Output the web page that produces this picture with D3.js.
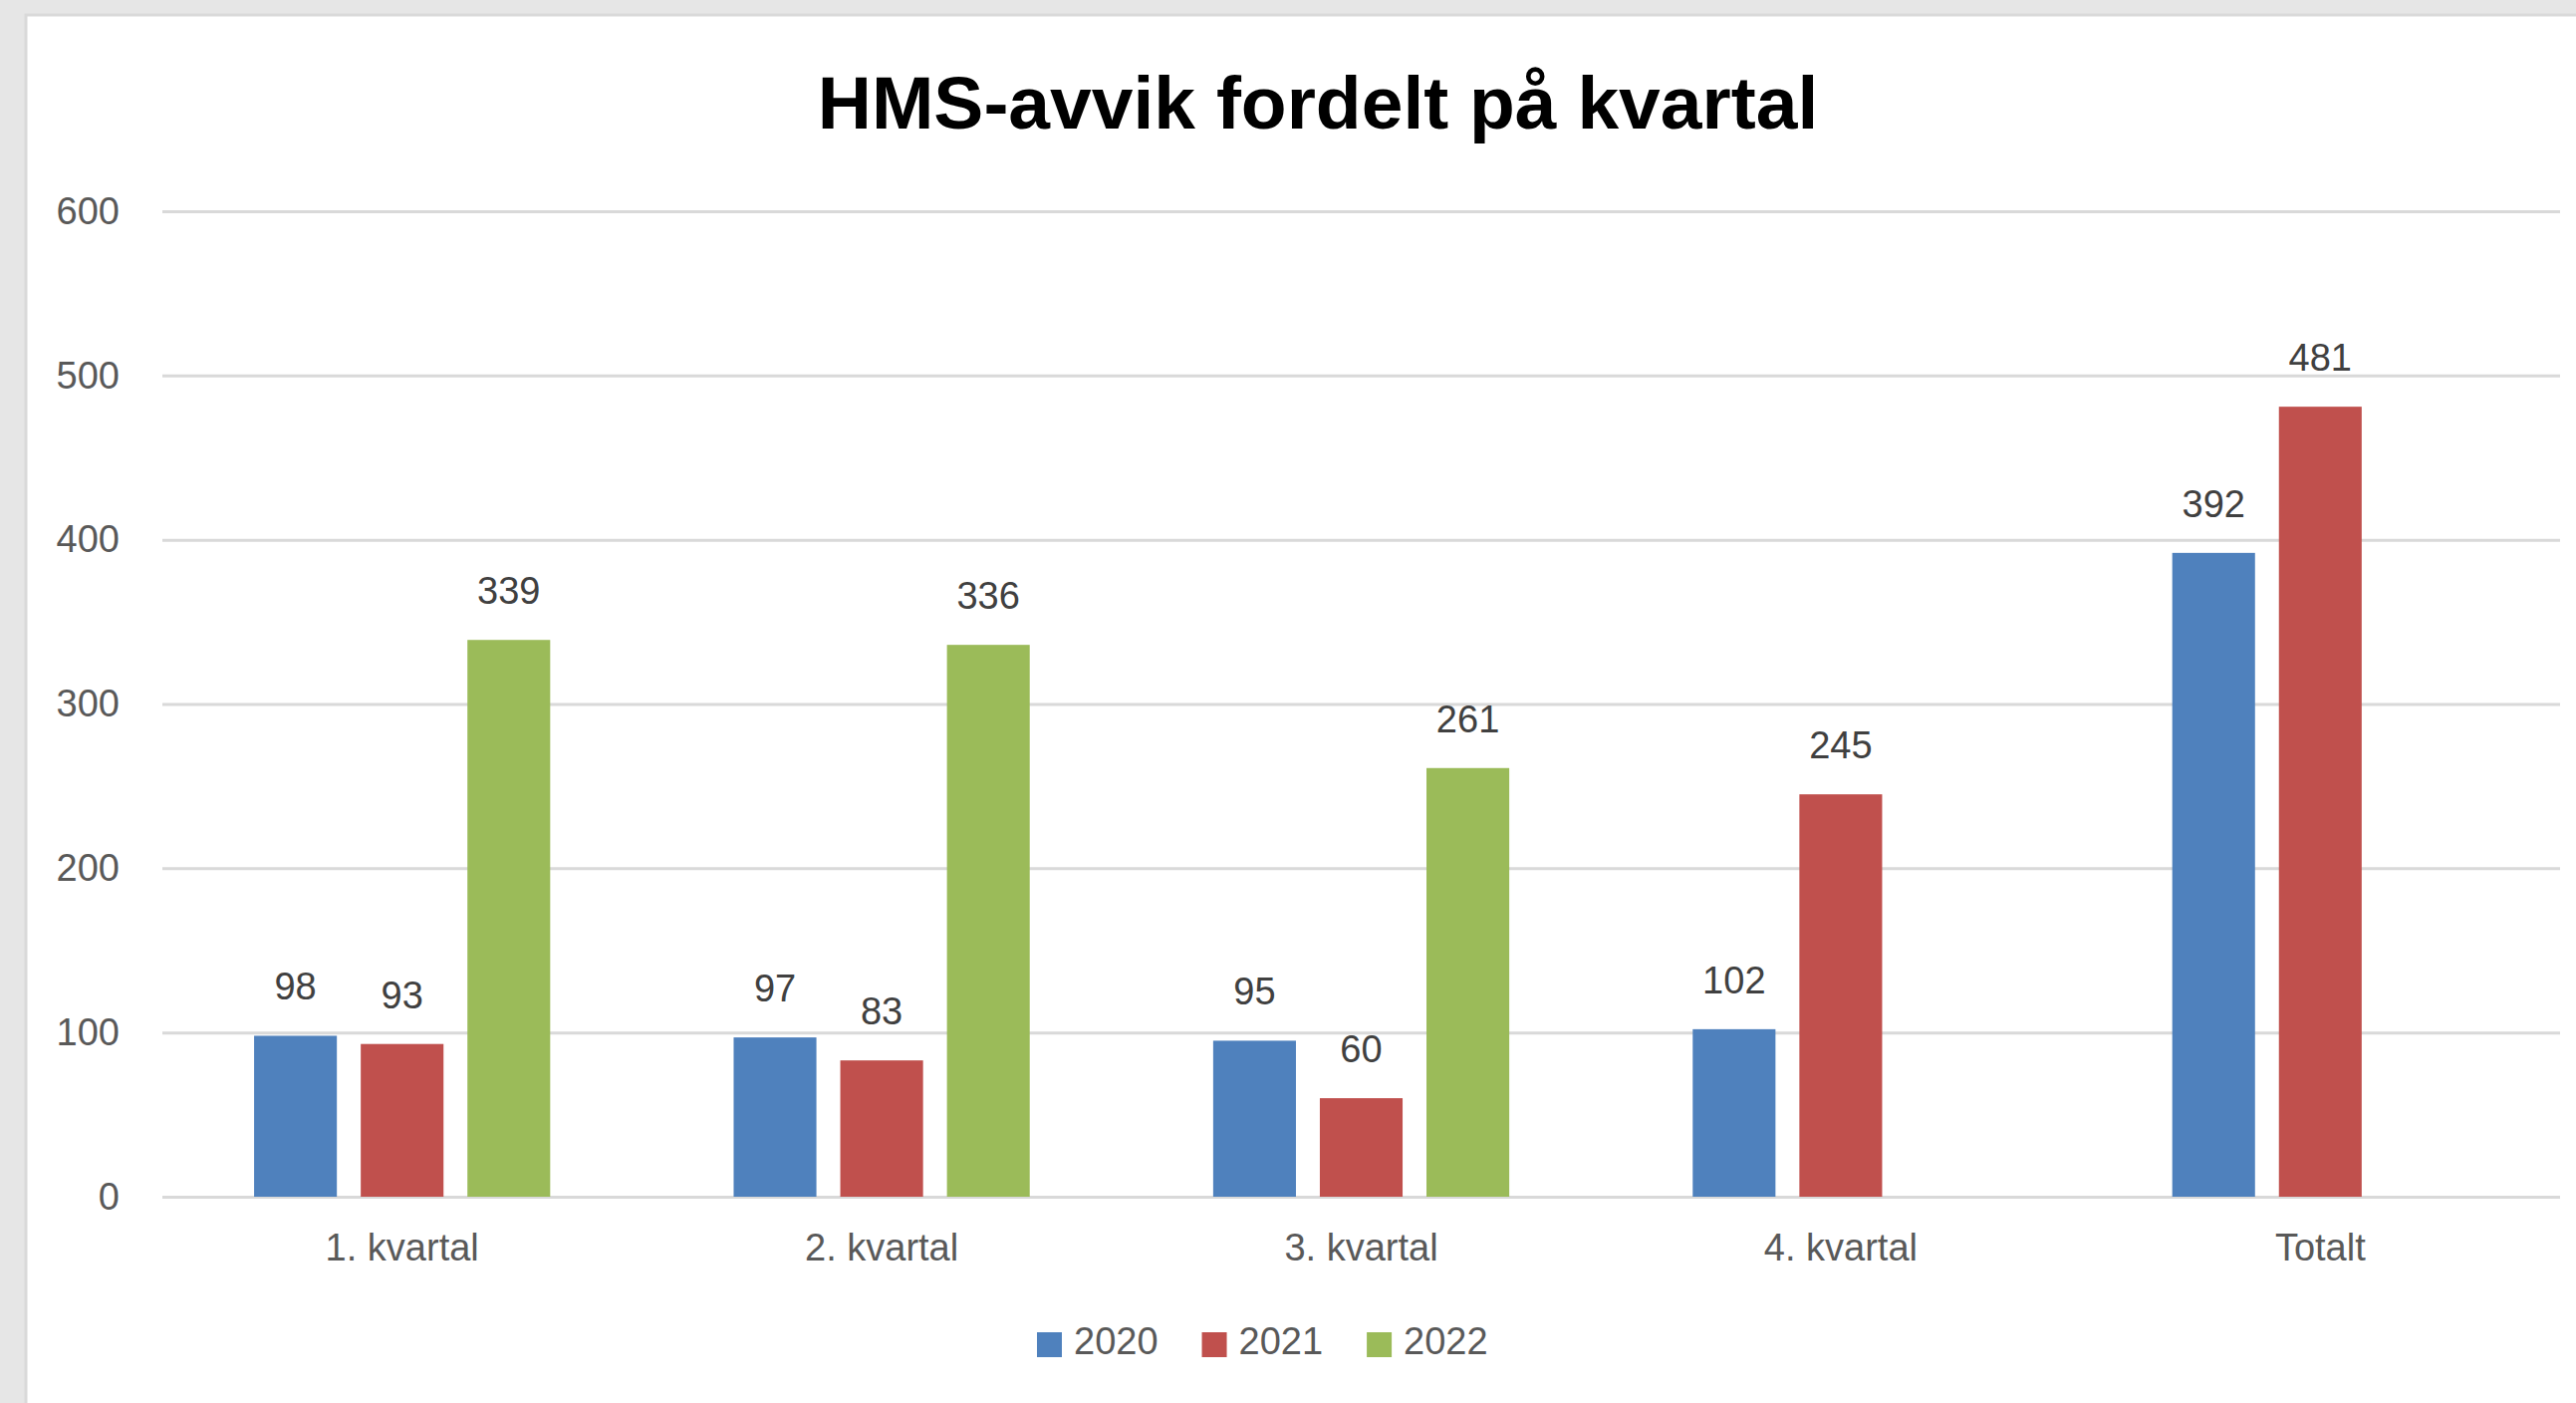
<!DOCTYPE html>
<html lang="no">
<head>
  <meta charset="UTF-8">
  <title>HMS-avvik fordelt på kvartal</title>
  <script src="https://d3js.org/d3.v7.min.js"></script>
  <style>
    html, body {
      margin: 0;
      padding: 0;
      background: #e6e6e6;
      overflow: hidden;
    }
    svg text {
      font-family: "Liberation Sans", Arial, sans-serif;
    }
  </style>
</head>
<body>
  <svg id="chart" width="2586" height="1408"></svg>

  <script>
    // data
    const categories = ["1. kvartal", "2. kvartal", "3. kvartal", "4. kvartal", "Totalt"];
    const years = ["2020", "2021", "2022"];
    const values2020 = [98, 97, 95, 102, 392];
    const values2021 = [93, 83, 60, 245, 481];
    const values2022 = [339, 336, 261, null, null];
    const yTicks = [0, 100, 200, 300, 400, 500, 600];

    const seriesValues = { "2020": values2020, "2021": values2021, "2022": values2022 };

    const width = 2586;
    const height = 1408;
    const plot = { left: 163, right: 2570, top: 212, bottom: 1201 };

    const colors = d3.scaleOrdinal()
      .domain(years)
      .range(["#4f81bd", "#c0504d", "#9bbb59"]);

    const svg = d3.select("#chart");

    // chart area
    svg.append("rect")
      .attr("x", 26)
      .attr("y", 15)
      .attr("width", width)
      .attr("height", height)
      .attr("fill", "#fff")
      .attr("stroke", "#d9d9d9")
      .attr("stroke-width", 3);

    svg.append("text")
      .attr("x", 1323)
      .attr("y", 129)
      .attr("text-anchor", "middle")
      .attr("font-size", 75)
      .attr("font-weight", "bold")
      .attr("fill", "#000")
      .text("HMS-avvik fordelt på kvartal");

    const y = d3.scaleLinear()
      .domain([0, 600])
      .range([plot.bottom, plot.top]);

    const x0 = d3.scaleBand()
      .domain(categories)
      .range([plot.left, plot.right]);

    const x1 = d3.scaleBand()
      .domain(years)
      .range([0, x0.bandwidth()])
      .paddingInner(0.224)
      .paddingOuter(0.86);

    // gridlines + value axis
    const yAxis = svg.append("g")
      .attr("transform", `translate(${plot.left},0)`)
      .call(d3.axisLeft(y).tickValues(yTicks).tickSize(plot.left - plot.right).tickPadding(43).tickFormat(d3.format("d")));
    yAxis.select(".domain").remove();
    yAxis.selectAll(".tick line")
      .attr("stroke", "#d9d9d9")
      .attr("stroke-width", 3);
    yAxis.selectAll(".tick text")
      .attr("font-size", 38)
      .attr("fill", "#595959");

    // bars
    const barData = [];
    categories.forEach((c, i) => {
      years.forEach(yr => {
        const v = seriesValues[yr][i];
        if (v != null) barData.push({ category: c, year: yr, value: v });
      });
    });

    svg.append("g")
      .selectAll("rect")
      .data(barData)
      .join("rect")
      .attr("x", d => x0(d.category) + x1(d.year))
      .attr("y", d => y(d.value))
      .attr("width", x1.bandwidth())
      .attr("height", d => y(0) - y(d.value))
      .attr("fill", d => colors(d.year));

    // data labels
    svg.append("g")
      .selectAll("text")
      .data(barData)
      .join("text")
      .attr("x", d => x0(d.category) + x1(d.year) + x1.bandwidth() / 2)
      .attr("y", d => y(d.value) - 36)
      .attr("text-anchor", "middle")
      .attr("font-size", 38)
      .attr("fill", "#404040")
      .text(d => d.value);

    // category axis
    const xAxis = svg.append("g")
      .attr("transform", `translate(0,${plot.bottom})`)
      .call(d3.axisBottom(x0).tickSize(0).tickPadding(0));
    xAxis.select(".domain").remove();
    xAxis.selectAll(".tick text")
      .attr("y", 64)
      .attr("dy", 0)
      .attr("font-size", 38)
      .attr("fill", "#595959");

    // legend
    const legend = svg.append("g");
    let lx = 1041;
    years.forEach(yr => {
      legend.append("rect")
        .attr("x", lx)
        .attr("y", 1337)
        .attr("width", 25)
        .attr("height", 25)
        .attr("fill", colors(yr));
      const t = legend.append("text")
        .attr("x", lx + 37)
        .attr("y", 1359)
        .attr("font-size", 38)
        .attr("fill", "#595959")
        .text(yr);
      lx += 37 + t.node().getComputedTextLength() + 44;
    });
  </script>
</body>
</html>
